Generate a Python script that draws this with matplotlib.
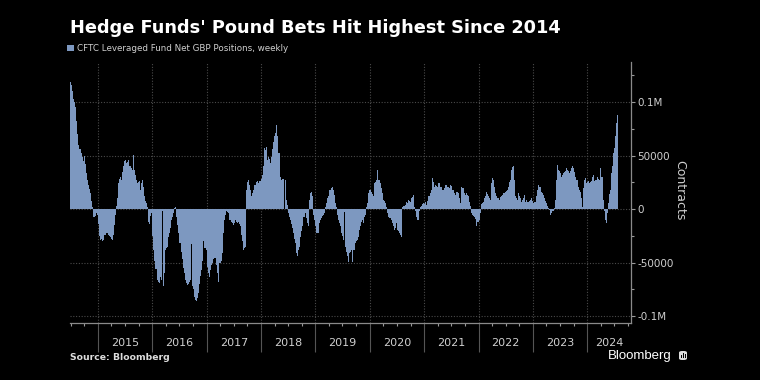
import matplotlib
matplotlib.use("Agg")
import matplotlib.pyplot as plt
import matplotlib.dates as mdates
from matplotlib.ticker import FixedLocator, FuncFormatter
from matplotlib.transforms import blended_transform_factory
from matplotlib.patches import FancyBboxPatch, Rectangle
import pandas as pd

# ---- data (thousands of contracts, weekly) ----
net_2014 = [119, 116, 110, 103, 100, 95, 82, 70, 60, 56, 52, 49, 45, 50, 42, 34, 27, 23, 19, 15,
            8, 2, -7, -7, -6, -4, -5]
net_2015 = [-14, -25, -29, -28, -30, -29, -24, -22, -22, -24, -25, -26, -28, -29, -24, -15, -5, 3, 10, 24,
            28, 30, 27, 35, 40, 45, 46, 43, 44, 46, 40, 38, 37, 51, 37, 32, 27, 24, 25, 26,
            18, 24, 27, 21, 12, 8, 6, 2, -12, -14, -6, -4]
net_2016 = [-25, -38, -48, -56, -66, -68, -69, -63, -66, -2, -72, -60, -38, -36, -35, -26, -22, -18, -10, -7,
            -4, 1, 2, -7, -15, -22, -32, -40, -47, -55, -60, -66, -69, -71, -70, -68, -66, -33, -72, -75,
            -82, -85, -86, -83, -78, -70, -62, -57, -48, -30, -36, -38]
net_2017 = [-54, -60, -63, -57, -52, -50, -47, -46, -46, -52, -60, -68, -50, -50, -48, -41, -22, -10, -5, -2,
            -3, -4, -10, -12, -13, -15, -13, -10, -12, -13, -12, -14, -16, -24, -30, -38, -36, -35, 18, 25,
            27, 23, 18, 12, 15, 18, 23, 25, 26, 24, 26, 26]
net_2018 = [28, 32, 40, 57, 55, 58, 46, 49, 47, 43, 49, 56, 63, 68, 71, 79, 68, 52, 30, 27,
            28, 28, 0, 27, 9, 4, -4, -7, -10, -14, -18, -22, -28, -32, -41, -44, -38, -35, -26, -20,
            -16, -7, -4, -8, -13, -16, 9, 15, 16, 12, -5, -10]
net_2019 = [-16, -22, -22, -22, -13, -10, -8, -6, -5, -4, 2, 6, 10, 12, 18, 20, 21, 18, 13, 6,
            2, -5, -10, -13, -16, -22, -25, -29, -3, -35, -40, -44, -49, -41, -40, -38, -49, -38, -32, -30,
            -29, -26, -19, -16, -12, -10, -13, -7, -5, 2, 6, 15, 18]
net_2020 = [18, 16, 14, 12, 24, 25, 27, 37, 27, 24, 20, 15, 9, 8, 6, 2, -4, -7, -8, -8,
            -10, -13, -16, -19, -18, -13, -19, -20, -22, -24, -26, 2, 3, 4, 7, 6, 9, 8, 7, 10,
            11, 13, 2, -2, -7, -10, -10, -2, 2, 3, 5, 6]
net_2021 = [5, 7, 4, 8, 12, 15, 18, 29, 25, 21, 23, 22, 21, 24, 24, 21, 21, 18, 18, 20,
            23, 23, 21, 21, 20, 23, 22, 18, 15, 13, 16, 16, 15, 10, 6, 21, 20, 20, 15, 13,
            15, 13, 12, 7, 3, -4, -5, -6, -7, -9, -16, -12]
net_2022 = [-10, -4, 5, 6, 7, 10, 12, 16, 14, 12, 10, 9, 24, 29, 27, 21, 15, 12, 10, 10,
            9, 11, 12, 13, 15, 16, 17, 18, 21, 25, 27, 37, 39, 40, 27, 12, 10, 9, 15, 12,
            10, 7, 9, 10, 13, 7, 9, 7, 8, 9, 10, 8]
net_2023 = [6, 7, 7, 12, 18, 23, 21, 21, 16, 15, 13, 10, 8, 6, 3, 1, -1, -5, -4, -2,
            1, 9, 27, 41, 37, 36, 34, 30, 32, 34, 35, 36, 38, 37, 36, 34, 36, 38, 40, 38,
            35, 30, 27, 21, 18, 16, 10, 2, 20, 27, 29, 24]
net_2024 = [25, 26, 24, 25, 26, 30, 32, 26, 27, 27, 30, 28, 27, 38, 30, 9, -2, -10, -13, -4,
            6, 14, 18, 34, 40, 52, 57, 68, 80, 88]

first_week = "2014-07-01"
year_labels = ["2015", "2016", "2017", "2018", "2019", "2020", "2021", "2022", "2023", "2024"]
y_ticks = [-100000, -50000, 0, 50000, 100000]
y_tick_labels = ["-0.1M", "-50000", "0", "50000", "0.1M"]
series_label = "CFTC Leveraged Fund Net GBP Positions, weekly"

# ---- assemble ----
net_k = (net_2014 + net_2015 + net_2016 + net_2017 + net_2018 + net_2019 +
         net_2020 + net_2021 + net_2022 + net_2023 + net_2024)
values = [v * 1000 for v in net_k]
dates = pd.date_range(first_week, periods=len(values), freq="7D")

BAR = "#7d98c0"
GRID = "#4a4a4a"
TXT = "#cfcfcf"

W, H = 760, 380
fig = plt.figure(figsize=(W / 100, H / 100), dpi=100, facecolor="black")
ax = fig.add_axes([70 / W, 1 - 323 / H, (631 - 70) / W, (323 - 62) / H])
ax.set_facecolor("black")

ax.bar(dates, values, width=7.2, color=BAR, linewidth=0, align="center",
       zorder=2, label=series_label)

x0 = pd.Timestamp("2014-06-27")
x1 = pd.Timestamp("2024-10-21")
ax.set_xlim(x0, x1)
ax.set_ylim(-106300, 137400)

# spines
for s in ("left", "top"):
    ax.spines[s].set_visible(False)
for s in ("right", "bottom"):
    ax.spines[s].set_color("#8a8a8a")
    ax.spines[s].set_linewidth(0.9)

# y axis on right
ax.yaxis.tick_right()
ax.yaxis.set_major_locator(FixedLocator(y_ticks))
ax.yaxis.set_major_formatter(FuncFormatter(lambda v, p: y_tick_labels[y_ticks.index(int(round(v)))]
                                           if int(round(v)) in y_ticks else ""))
ax.yaxis.set_minor_locator(FixedLocator([-75000, -25000, 25000, 75000, 125000]))
ax.tick_params(axis="y", which="major", colors="#9a9a9a", labelcolor=TXT, length=3,
               width=0.8, labelsize=7.5, pad=1.5)
ax.tick_params(axis="y", which="minor", colors="#9a9a9a", length=2.5, width=0.8)

# x axis: major ticks at year starts act as separators, minor quarterly
year_starts = [pd.Timestamp(f"{y}-01-01") for y in range(2015, 2025)]
ax.xaxis.set_major_locator(FixedLocator(mdates.date2num(year_starts)))
ax.xaxis.set_major_formatter(FuncFormatter(lambda v, p: ""))
ax.xaxis.set_minor_locator(mdates.MonthLocator(bymonth=[4, 7, 10]))
ax.tick_params(axis="x", which="major", colors="#555555", length=21, width=0.8)
ax.tick_params(axis="x", which="minor", colors="#9a9a9a", length=2, width=0.8)

# grid
ax.grid(True, which="major", axis="both", color=GRID, linestyle=(0, (1, 1.5)),
        linewidth=0.8, zorder=0)
ax.set_axisbelow(True)

# year labels centred in visible part of each year
trans = blended_transform_factory(ax.transData, ax.transAxes)
for lab in year_labels:
    y = int(lab)
    a = max(pd.Timestamp(f"{y}-01-01"), x0)
    b = min(pd.Timestamp(f"{y + 1}-01-01"), x1)
    mid = a + (b - a) / 2
    ax.text(mdates.date2num(mid), -0.077, lab, transform=trans, ha="center", va="center",
            color=TXT, fontsize=8)

# titles and annotations
fig.text(70 / W, 1 - 28 / H, "Hedge Funds' Pound Bets Hit Highest Since 2014",
         color="white", fontsize=12.8, fontweight="bold", va="center", ha="left")
fig.legend(loc="upper left", bbox_to_anchor=(67 / W, 1 - 44 / H), frameon=False,
           fontsize=6.3, labelcolor=TXT, handlelength=0.8, handleheight=0.8,
           handletextpad=0.3, borderpad=0, borderaxespad=0)
fig.text(680 / W, 1 - 190 / H, "Contracts", rotation=270, color=TXT, fontsize=9,
         ha="center", va="center")
fig.text(70 / W, 1 - 357 / H, "Source: Bloomberg", color="#dddddd", fontsize=6.7,
         fontweight="bold", ha="left", va="center")
fig.text(672 / W, 1 - 356 / H, "Bloomberg", color="white", fontsize=9.5,
         family="Liberation Sans", ha="right", va="center")
fig.patches.append(FancyBboxPatch((679 / W, 1 - 360 / H), 8 / W, 9 / H,
                                  boxstyle="round,pad=0,rounding_size=0.004",
                                  transform=fig.transFigure, facecolor="#dddddd",
                                  edgecolor="none"))
for i, hh in enumerate([3, 5, 4]):
    fig.patches.append(Rectangle(((680.5 + i * 2) / W, 1 - 358 / H), 1 / W, hh / H,
                                 transform=fig.transFigure, facecolor="black",
                                 edgecolor="none"))

fig.savefig("out.png", dpi=100, facecolor="black")
